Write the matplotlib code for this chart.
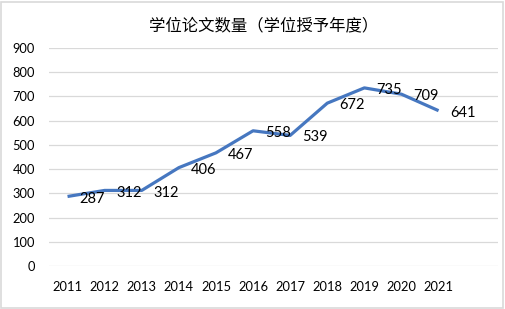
import matplotlib.pyplot as plt
from matplotlib.patches import Rectangle

plt.rcParams['font.family'] = ['Noto Sans CJK SC', 'DejaVu Sans']

years = ['2011', '2012', '2013', '2014', '2015', '2016', '2017', '2018', '2019', '2020', '2021']
counts = [287, 312, 312, 406, 467, 558, 539, 672, 735, 709, 641]
title = '学位论文数量（学位授予年度）'

fig = plt.figure(figsize=(5.05, 3.09), dpi=100)
ax = fig.add_axes([0.097, 0.139, 0.889, 0.706])

x = list(range(len(years)))
ax.plot(x, counts, color='#4677C0', linewidth=2.3, solid_capstyle='butt', zorder=3)

# data labels, right of each point
for xi, v in zip(x, counts):
    ax.annotate(str(v), (xi, v), xytext=(8.5, -1.5), textcoords='offset points',
                ha='left', va='center', fontsize=10.5, family='Lato', color='#000000', zorder=4)

ax.set_ylim(0, 900)
ax.set_yticks(range(0, 901, 100))
ax.set_xlim(-0.5, 11.6)
ax.set_xticks(x)
ax.set_xticklabels(years)
ax.grid(axis='y', color='#D9D9D9', linewidth=0.9)
ax.set_axisbelow(True)
for s in ax.spines.values():
    s.set_visible(False)
ax.tick_params(length=0, labelsize=9.3, colors='#000000')
ax.tick_params(axis='y', pad=10)
ax.tick_params(axis='x', pad=11)
for lab in ax.get_xticklabels() + ax.get_yticklabels():
    lab.set_family('Lato')

fig.text(0.522, 0.915, title, ha='center', va='center', fontsize=11.8, color='#000000')

# chart border
fig.patches.append(Rectangle((0.002, 0.003), 0.995, 0.992, transform=fig.transFigure,
                             fill=False, edgecolor='#D9D9D9', linewidth=1.2))

fig.savefig('out.png', dpi=100)
